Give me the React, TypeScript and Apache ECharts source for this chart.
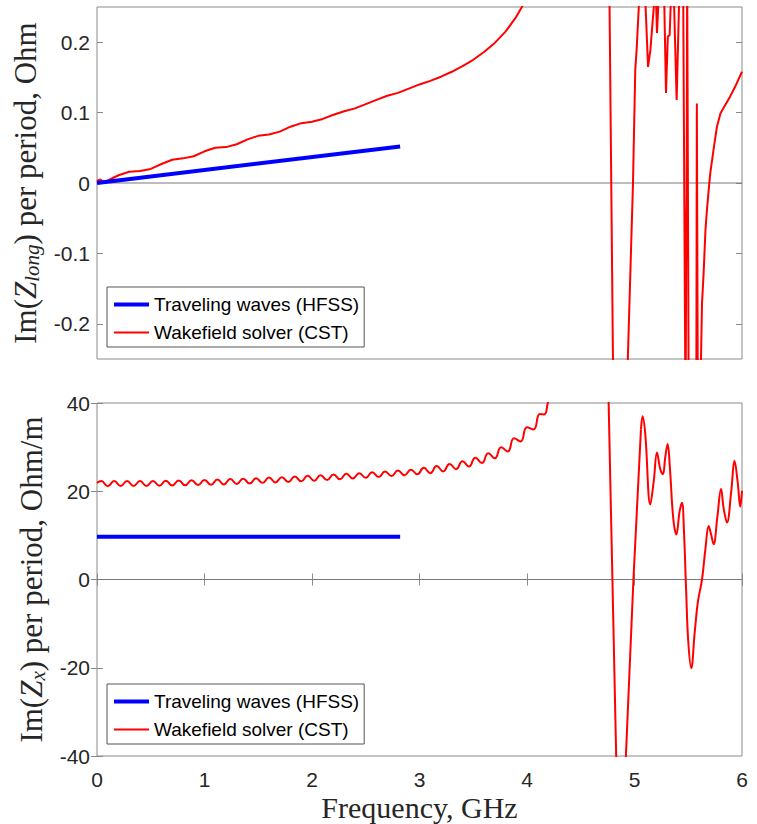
import React, { useEffect, useRef } from "react";
import * as echarts from "echarts";

const seriesNames = ["Traveling waves (HFSS)", "Wakefield solver (CST)"];
const freqMin = 0;
const freqMax = 6;
const longTicks = [-0.2, -0.1, 0, 0.1, 0.2];

// Top panel: Im(Z_long) per period, Ohm
const longHfss: number[][] = [[0, 0], [2.82, 0.052]];
const longCst: number[][] = [
  [0, 0.003], [0.03, 0.005], [0.07, 0.001], [0.12, 0.005], [0.2, 0.011], [0.3, 0.016],
  [0.4, 0.017], [0.5, 0.02], [0.6, 0.027], [0.7, 0.033], [0.8, 0.035], [0.9, 0.038],
  [1.0, 0.045], [1.1, 0.05], [1.2, 0.051], [1.3, 0.055], [1.4, 0.062], [1.5, 0.067],
  [1.6, 0.069], [1.7, 0.073], [1.8, 0.08], [1.9, 0.085], [2.0, 0.087], [2.1, 0.091],
  [2.2, 0.097], [2.3, 0.102], [2.4, 0.106], [2.5, 0.112], [2.6, 0.118], [2.7, 0.124],
  [2.8, 0.128], [2.9, 0.134], [3.0, 0.14], [3.1, 0.145], [3.2, 0.151], [3.3, 0.158],
  [3.4, 0.166], [3.5, 0.175], [3.6, 0.186], [3.7, 0.199], [3.8, 0.215], [3.9, 0.236],
  [3.96, 0.252], [4.1, 0.3], [4.4, 0.42], [4.6, 0.52], [4.74, 0.69], [4.82, -0.57],
  [4.88, -0.55], [4.986, 0], [5.007, 0.16], [5.02, 0.19], [5.04, 0.25], [5.06, 0.32],
  [5.09, 0.3], [5.126, 0.165], [5.148, 0.189], [5.17, 0.232], [5.185, 0.26], [5.2, 0.26],
  [5.209, 0.213], [5.224, 0.26], [5.25, 0.35], [5.265, 0.35], [5.293, 0.128], [5.31, 0.208],
  [5.327, 0.21], [5.345, 0.29], [5.36, 0.3], [5.392, 0.118], [5.425, 0.32], [5.445, 0.5],
  [5.475, -0.35], [5.482, -0.048], [5.485, -0.02], [5.49, 0.3], [5.505, -0.35], [5.53, -0.6],
  [5.56, -0.5], [5.575, -0.3], [5.58, 0.113], [5.59, -0.35], [5.6, -0.45], [5.61, -0.32],
  [5.628, -0.171], [5.643, -0.128], [5.66, -0.067], [5.674, -0.038], [5.69, -0.01],
  [5.705, 0.014], [5.735, 0.047], [5.767, 0.08], [5.8, 0.099], [5.845, 0.111], [5.89, 0.123],
  [5.937, 0.137], [6.0, 0.158],
];

// Bottom panel: Im(Z_x) per period, Ohm/m
const transHfss: number[][] = [[0, 9.7], [2.82, 9.7]];
const transCstLow: number[][] = [
  [0.0, 21.9], [0.04, 22.3], [0.1, 21.15], [0.16, 22.3], [0.22, 21.2], [0.28, 22.3],
  [0.34, 21.2], [0.4, 22.3], [0.46, 21.2], [0.52, 22.35], [0.58, 21.25], [0.64, 22.4],
  [0.7, 21.3], [0.76, 22.45], [0.82, 21.35], [0.88, 22.5], [0.94, 21.4], [1.0, 22.55],
  [1.06, 21.45], [1.12, 22.65], [1.18, 21.55], [1.24, 22.75], [1.3, 21.65], [1.36, 22.85],
  [1.42, 21.75], [1.48, 22.95], [1.54, 21.9], [1.6, 23.1], [1.66, 22.0], [1.72, 23.2],
  [1.78, 22.1], [1.84, 23.35], [1.9, 22.25], [1.96, 23.5], [2.02, 22.4], [2.08, 23.65],
  [2.14, 22.55], [2.2, 23.8], [2.26, 22.7], [2.32, 23.95], [2.38, 22.9], [2.44, 24.1],
  [2.5, 23.05], [2.56, 24.3], [2.62, 23.25], [2.68, 24.5], [2.74, 23.45], [2.8, 24.7],
  [2.86, 23.65], [2.92, 24.9], [2.98, 23.85], [3.04, 25.3], [3.1, 24.1], [3.16, 25.7],
  [3.22, 24.5], [3.28, 26.2], [3.34, 25.0], [3.4, 26.8], [3.46, 25.6], [3.52, 27.6],
  [3.58, 26.4], [3.64, 28.6], [3.7, 27.5], [3.76, 30.0], [3.82, 29.0], [3.88, 32.0],
  [3.94, 31.3], [4.0, 34.5], [4.06, 34.0], [4.12, 37.5], [4.16, 37.4], [4.2, 40.5],
  [4.3, 46], [4.45, 58], [4.6, 72], [4.72, 85],
];
const transCstJump: number[][] = [[4.72, 85], [4.87, -86], [4.92, -40], [4.99, 0], [5.06, 34]];
const transCstHigh: number[][] = [
  [5.06, 34], [5.075, 37], [5.1, 33], [5.147, 17], [5.18, 22.5], [5.209, 28.8], [5.24, 25],
  [5.265, 23.9], [5.285, 27.5], [5.308, 30.7], [5.33, 25], [5.36, 14], [5.389, 10.2],
  [5.42, 15.5], [5.442, 17.4], [5.46, 11], [5.48, -2.3], [5.5, -14], [5.528, -20.1],
  [5.56, -12], [5.59, -5], [5.628, 0], [5.66, 7], [5.69, 12.1], [5.71, 10.5], [5.736, 8],
  [5.77, 14], [5.805, 20.5], [5.83, 16], [5.86, 12.9], [5.9, 20], [5.93, 26.9], [5.96, 22],
  [5.984, 16.5], [6.0, 20.1],
];
const zeroLine: number[][] = [[freqMin, 0], [freqMax, 0]];

const FRAME = "#8a8a8a";
const TXT = "#262626";
const SANS = "Liberation Sans, Arial, sans-serif";
const SERIF = "Liberation Serif, Times New Roman, serif";
const BLUE = "#0000ff";
const RED = "#ff0000";

const nameRich = {
  a: { fontFamily: SERIF, fontSize: 31, color: TXT, lineHeight: 34 },
  i: { fontFamily: SERIF, fontSize: 31, fontStyle: "italic", color: TXT, lineHeight: 34 },
  s: { fontFamily: SERIF, fontSize: 21, fontStyle: "italic", color: TXT, lineHeight: 14, verticalAlign: "bottom" },
};

export default function App() {
  const ref = useRef<HTMLDivElement>(null);
  useEffect(() => {
    if (!ref.current) return;
    const chart = echarts.init(ref.current, undefined, { renderer: "svg" });
    const lineBase = { type: "line", symbol: "none", showSymbol: false, silent: true, animation: false };
    const legendBase = {
      orient: "vertical",
      data: [
        { name: seriesNames[0], itemStyle: { opacity: 0 }, lineStyle: { color: BLUE, width: 4 } },
        { name: seriesNames[1], itemStyle: { opacity: 0 }, lineStyle: { color: RED, width: 2 } },
      ],
      itemWidth: 35,
      itemHeight: 14,
      itemGap: 9,
      padding: [8, 5, 5, 5],
      backgroundColor: "#fff",
      borderColor: "#555",
      borderWidth: 1,
      borderRadius: 0,
      textStyle: { fontFamily: SANS, fontSize: 19, color: "#000", lineHeight: 19 },
      selectedMode: false,
    };
    const hidden = { show: false };
    const inTick = (vals?: number[]) => ({
      show: true,
      inside: true,
      length: 6,
      lineStyle: { color: FRAME, width: 1 },
      ...(vals ? { customValues: vals } : {}),
    });
    chart.setOption({
      animation: false,
      grid: [
        { left: 97, top: 7, width: 645, height: 352, show: true, borderColor: FRAME, borderWidth: 1 },
        { left: 97, top: 403, width: 645, height: 353, show: true, borderColor: FRAME, borderWidth: 1 },
      ],
      legend: [
        { ...legendBase, left: 107, top: 287 },
        { ...legendBase, left: 107, top: 684 },
      ],
      xAxis: [
        { type: "value", gridIndex: 0, min: freqMin, max: freqMax, interval: 1, axisLine: hidden, axisTick: hidden, axisLabel: hidden, splitLine: hidden },
        {
          type: "value", gridIndex: 1, min: freqMin, max: freqMax, interval: 1, position: "bottom",
          axisLine: hidden, axisTick: inTick(), splitLine: hidden,
          axisLabel: { fontFamily: SANS, fontSize: 21, color: TXT, margin: 13 },
          name: "Frequency, GHz", nameLocation: "middle", nameGap: 36,
          nameTextStyle: { fontFamily: SERIF, fontSize: 30, color: TXT },
        },
        { type: "value", gridIndex: 1, min: freqMin, max: freqMax, interval: 1, position: "top", axisLine: hidden, axisTick: inTick(), axisLabel: hidden, splitLine: hidden },
      ],
      yAxis: [
        {
          type: "value", gridIndex: 0, min: -0.25, max: 0.25, position: "left",
          axisLine: hidden, splitLine: hidden, axisTick: inTick(longTicks),
          axisLabel: { fontFamily: SANS, fontSize: 21, color: TXT, margin: 7, customValues: longTicks },
          name: "{a|Im(}{i|Z}{s|long}{a|) per period, Ohm}", nameLocation: "middle", nameGap: 49,
          nameTextStyle: { rich: nameRich },
        },
        {
          type: "value", gridIndex: 0, min: -0.25, max: 0.25, position: "right",
          axisLine: hidden, splitLine: hidden, axisTick: inTick(longTicks),
          axisLabel: { show: false, customValues: longTicks },
        },
        {
          type: "value", gridIndex: 1, min: -40, max: 40, interval: 20, position: "left",
          axisLine: hidden, splitLine: hidden, axisTick: inTick(),
          axisLabel: { fontFamily: SANS, fontSize: 21, color: TXT, margin: 7 },
          name: "{a|Im(}{i|Z}{s|x}{a|) per period, Ohm/m}", nameLocation: "middle", nameGap: 49,
          nameTextStyle: { rich: nameRich },
        },
        {
          type: "value", gridIndex: 1, min: -40, max: 40, interval: 20, position: "right",
          axisLine: hidden, splitLine: hidden, axisTick: inTick(), axisLabel: hidden,
        },
      ],
      series: [
        { ...lineBase, name: "zero-top", xAxisIndex: 0, yAxisIndex: 0, data: zeroLine, lineStyle: { color: "#7a7a7a", width: 1.2 }, z: 1 },
        { ...lineBase, name: seriesNames[0], xAxisIndex: 0, yAxisIndex: 0, data: longHfss, color: BLUE, lineStyle: { color: BLUE, width: 4 }, z: 3 },
        { ...lineBase, name: seriesNames[1], xAxisIndex: 0, yAxisIndex: 0, data: longCst, color: RED, lineStyle: { color: RED, width: 2 }, z: 2 },
        { ...lineBase, name: "zero-bottom", xAxisIndex: 1, yAxisIndex: 2, data: zeroLine, lineStyle: { color: "#7a7a7a", width: 1.2 }, z: 1 },
        { ...lineBase, name: seriesNames[0], xAxisIndex: 1, yAxisIndex: 2, data: transHfss, color: BLUE, lineStyle: { color: BLUE, width: 4 }, z: 3 },
        { ...lineBase, name: seriesNames[1], xAxisIndex: 1, yAxisIndex: 2, data: transCstLow, smooth: 0.5, color: RED, lineStyle: { color: RED, width: 2 }, z: 2 },
        { ...lineBase, name: seriesNames[1], xAxisIndex: 1, yAxisIndex: 2, data: transCstJump, color: RED, lineStyle: { color: RED, width: 2 }, z: 2 },
        { ...lineBase, name: seriesNames[1], xAxisIndex: 1, yAxisIndex: 2, data: transCstHigh, smooth: 0.4, color: RED, lineStyle: { color: RED, width: 2 }, z: 2 },
      ],
    });
    return () => chart.dispose();
  }, []);
  return (
    <div
      ref={ref}
      style={{ position: "fixed", left: 0, top: 0, width: 757, height: 824, background: "#fff" }}
    />
  );
}
